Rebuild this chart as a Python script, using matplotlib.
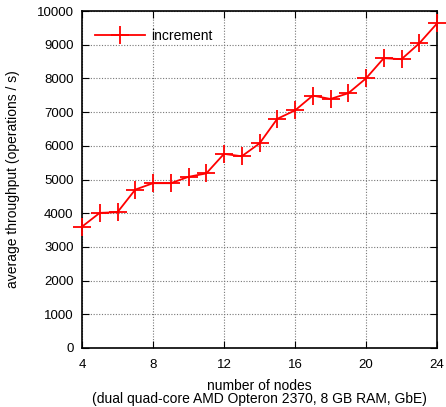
import matplotlib
matplotlib.use("Agg")
import matplotlib.pyplot as plt

nodes = [4, 5, 6, 7, 8, 9, 10, 11, 12, 13, 14, 15, 16, 17, 18, 19, 20, 21, 22, 23, 24]
throughput = [3600, 4010, 4030, 4700, 4890, 4890, 5080, 5180, 5760, 5690, 6070, 6800,
              7050, 7490, 7390, 7560, 8000, 8600, 8570, 9040, 9630]
series_label = "increment"
xticks = [4, 8, 12, 16, 20, 24]
yticks = list(range(0, 10001, 1000))

plt.rcParams['font.family'] = ['Liberation Sans', 'DejaVu Sans']
plt.rcParams['font.size'] = 9.5

fig = plt.figure(figsize=(4.46, 4.07), dpi=100)
ax = fig.add_axes([82/446, 59/407, 355/446, 337/407])

ax.plot(nodes, throughput, color='#ff0000', lw=1.3, marker='+', markersize=12.5,
        markeredgewidth=1.3, label=series_label, clip_on=False, zorder=3)

ax.set_xlim(4, 24)
ax.set_ylim(0, 10000)
ax.set_xticks(xticks)
ax.set_yticks(yticks)
ax.grid(True, color='#777777', linestyle=(0, (1, 1.5)), linewidth=0.8)
ax.tick_params(axis='x', direction='in', top=True, length=5, width=0.8, pad=8, colors='black')
ax.tick_params(axis='y', direction='in', right=True, length=5, width=0.8, pad=6, colors='black')
for s in ax.spines.values():
    s.set_linewidth(1.2)

ax.set_xlabel("number of nodes\n(dual quad-core AMD Opteron 2370, 8 GB RAM, GbE)",
              labelpad=6, linespacing=0.85, fontsize=10)
ax.set_ylabel("average throughput (operations / s)", labelpad=12, fontsize=10)

leg = ax.legend(loc='upper left', bbox_to_anchor=(0.0, 0.985), frameon=False,
                handlelength=3.6, borderaxespad=0.5, handletextpad=0.5, fontsize=10)

fig.savefig("out.png", dpi=100)
